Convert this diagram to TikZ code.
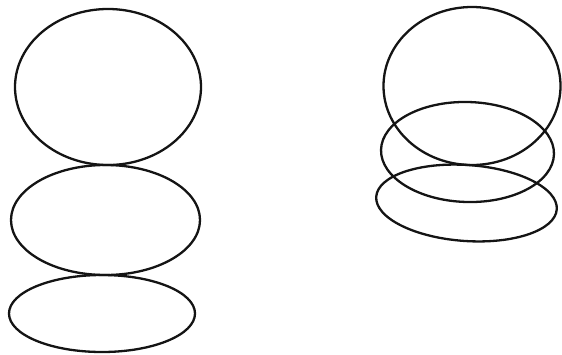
\documentclass[tikz,border=0pt]{standalone}
\begin{document}
\begin{tikzpicture}[x=1pt,y=-1pt,
  ring/.style={draw=black!92,line width=2.3pt}]
\useasboundingbox (0,0) rectangle (562,354);
% left stack: separated
\draw[ring] (108,87) ellipse [x radius=93, y radius=78];
\draw[ring] (105.5,220) ellipse [x radius=94.5, y radius=55];
\draw[ring] (102,313.5) ellipse [x radius=93, y radius=38.5];
% right stack: overlapping
\draw[ring] (472,86) ellipse [x radius=88.5, y radius=79];
\draw[ring] (467.5,152) [rotate around={-1.5:(467.5,152)}] ellipse [x radius=86.5, y radius=50];
\draw[ring] (466.5,203) [rotate around={-4:(466.5,203)}] ellipse [x radius=90.5, y radius=38];
\end{tikzpicture}
\end{document}
